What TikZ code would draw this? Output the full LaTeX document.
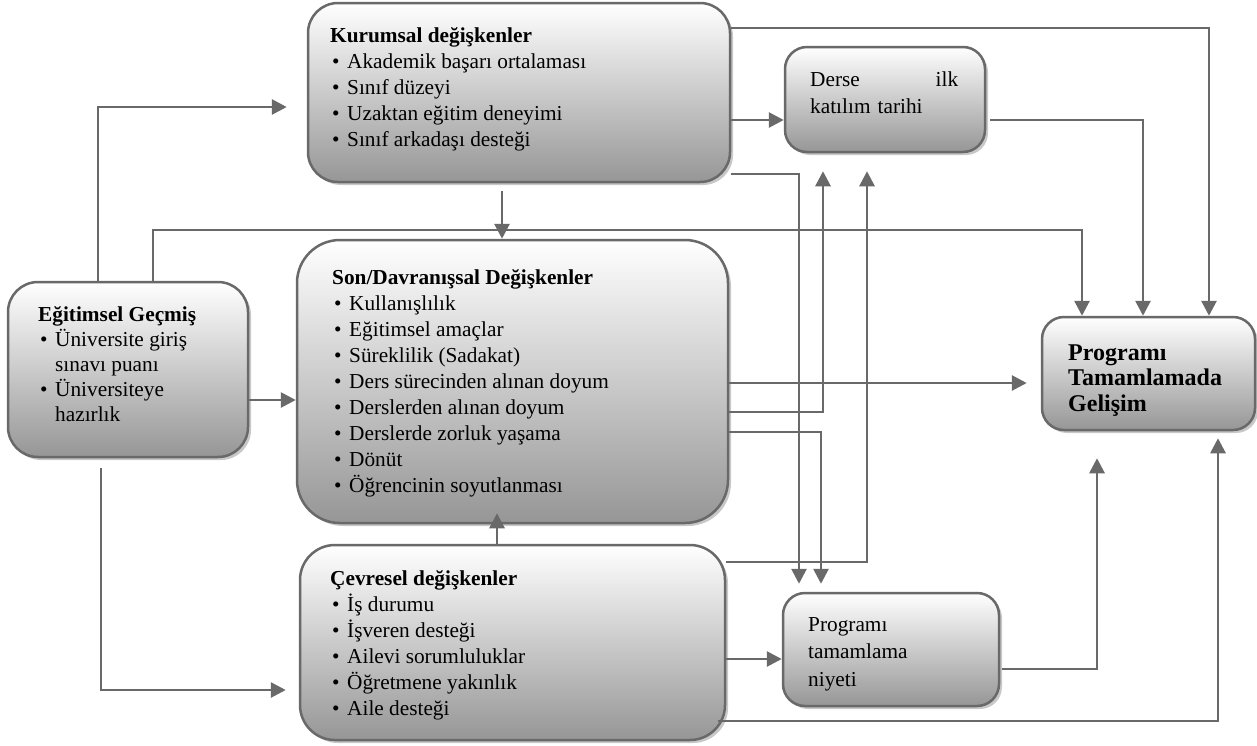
\documentclass[tikz,border=0pt]{standalone}
\usepackage{fontspec}
\setmainfont{Liberation Serif}
\usetikzlibrary{arrows.meta,shadows,calc}
\definecolor{lc}{RGB}{105,105,105}
\definecolor{gbot}{RGB}{150,150,150}
\definecolor{shc}{RGB}{200,200,200}
\newcommand{\bul}{\makebox[17pt][l]{\hspace{2pt}\textbullet}}
\newcommand{\ind}{\makebox[17pt]{}}
\begin{document}
\begin{tikzpicture}[x=1pt,y=-1pt,
 box/.style={rectangle, draw=lc, line width=2.5pt, top color=white, bottom color=gbot,
   drop shadow={shadow xshift=3pt,shadow yshift=-3pt,fill=shc,opacity=1}, inner sep=0pt},
 txt/.style={anchor=north west, inner sep=0pt, align=left, font=\fontsize{21.3}{26}\selectfont},
 arr/.style={draw=lc, line width=2.8pt, -{Triangle[length=15pt,width=15pt]}}]
\useasboundingbox (0,0) rectangle (1257,745);

\node[box, rounded corners=30pt, minimum width=422pt, minimum height=179pt] (kur) at (519,92.5) {};
\node[box, rounded corners=43pt, minimum width=431pt, minimum height=283pt] (son) at (512.5,381.5) {};
\node[box, rounded corners=35pt, minimum width=425pt, minimum height=195pt] (cev) at (512.5,642.5) {};
\node[box, rounded corners=30pt, minimum width=240pt, minimum height=175pt] (egt) at (128,369.5) {};
\node[box, rounded corners=22pt, minimum width=200pt, minimum height=105pt] (der) at (885,99.5) {};
\node[box, rounded corners=22pt, minimum width=216pt, minimum height=113pt] (niy) at (891,649.5) {};
\node[box, rounded corners=22pt, minimum width=213pt, minimum height=113pt] (ptg) at (1148.5,373.5) {};

\node[txt] (kurT) at (330,24) {\strut\textbf{Kurumsal değişkenler}\\\bul Akademik başarı ortalaması\\\bul Sınıf düzeyi\\\bul Uzaktan eğitim deneyimi\\\bul Sınıf arkadaşı desteği};
\node[txt] (sonT) at (332,266) {\strut\textbf{Son/Davranışsal Değişkenler}\\\bul Kullanışlılık\\\bul Eğitimsel amaçlar\\\bul Süreklilik (Sadakat)\\\bul Ders sürecinden alınan doyum\\\bul Derslerden alınan doyum\\\bul Derslerde zorluk yaşama\\\bul Dönüt\\\bul Öğrencinin soyutlanması};
\node[txt] (cevT) at (330,567) {\strut\textbf{Çevresel değişkenler}\\\bul İş durumu\\\bul İşveren desteği\\\bul Ailevi sorumluluklar\\\bul Öğretmene yakınlık\\\bul Aile desteği};
\node[txt, font=\fontsize{21.3}{25}\selectfont] (egtT) at (38,304) {\strut\textbf{Eğitimsel Geçmiş}\\\bul Üniversite giriş\\\ind sınavı puanı\\\bul Üniversiteye\\\ind hazırlık};
\node[txt, font=\fontsize{21.3}{27}\selectfont, text width=148pt] (derT) at (810,67) {\strut Derse\hfill ilk\\katılım tarihi};
\node[txt, font=\fontsize{21.3}{27.5}\selectfont] (niyT) at (808,612) {\strut Programı\\tamamlama\\niyeti};
\node[txt, font=\fontsize{24}{25.5}\selectfont\bfseries] (ptgT) at (1068,342) {\strut Programı\\Tamamlamada\\Gelişim};

\draw[arr, shorten >=20pt] (egt.north -| 98,0) |- (kur.west |- 0,107);
\draw[arr] (egt.north -| 153,0) -- (153,230) -| (ptg.north -| 1082,0);
\draw[arr] (egt.east |- 0,400) -- (son.west |- 0,400);
\draw[arr, shorten <=10pt, shorten >=13pt] (egt.south -| 101,0) |- (cev.west |- 0,690);
\draw[arr, shorten <=8pt] (kur.south -| 502,0) -- (son.north -| 502,0);
\draw[arr] (kur.east |- 0,120) -- (der.west |- 0,120);
\draw[arr] (kur.east |- 0,28) -| (ptg.north -| 1209,0);
\draw[arr, shorten <=4pt] (der.east |- 0,120) -| (ptg.north -| 1143,0);
\draw[arr, shorten >=8pt] (kur.east |- 0,174) -| (niy.north -| 799,0);
\draw[arr, shorten >=14pt] (son.east |- 0,383) -- (ptg.west |- 0,383);
\draw[arr, shorten >=18pt] (son.east |- 0,412) -| (der.south -| 823,0);
\draw[arr, shorten >=8pt] (son.east |- 0,432) -| (niy.north -| 821,0);
\draw[arr, shorten >=18pt] (cev.east |- 0,562) -| (der.south -| 867,0);
\draw[arr] (cev.east |- 0,659) -- (niy.west |- 0,659);
\draw[arr, shorten <=-8pt, shorten >=7pt] (cev.east |- 0,721) -| (ptg.south -| 1218,0);
\draw[arr, shorten <=2pt, shorten >=27pt] (niy.east |- 0,669) -| (ptg.south -| 1097,0);
\draw[arr, shorten >=-11pt] (cev.north -| 497,0) -- (son.south -| 497,0);
\end{tikzpicture}
\end{document}
